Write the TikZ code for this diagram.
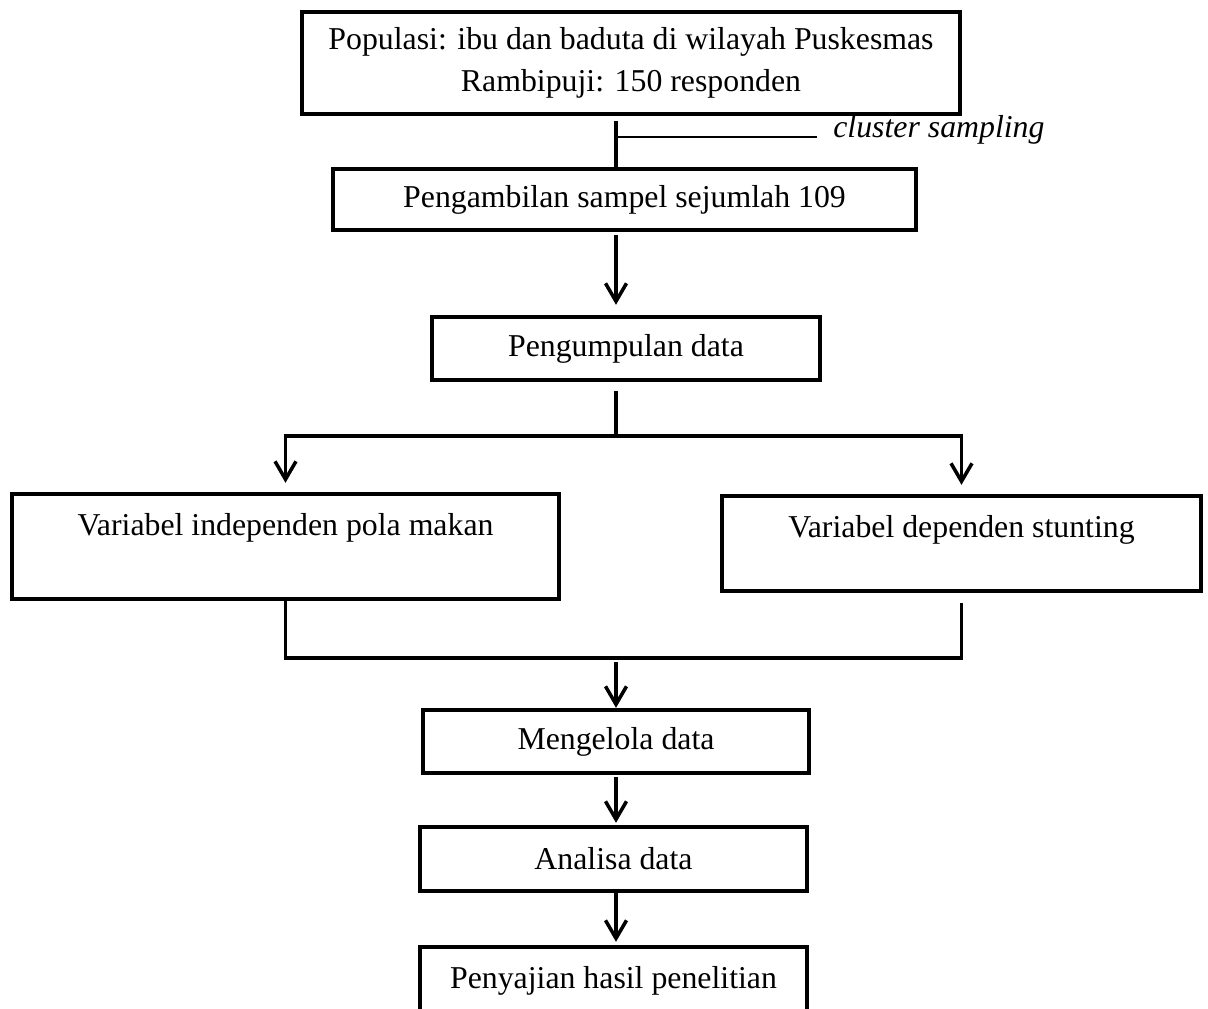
\documentclass[tikz,border=0pt]{standalone}
\usepackage{fontspec}
\setmainfont{Liberation Serif}
\usetikzlibrary{arrows.meta}

\begin{document}
\begin{tikzpicture}[
	box/.style={draw, line width=2.5pt, align=center, inner sep=0pt, font=\fontsize{18.1}{23.8}\selectfont},
	lbl/.style={font=\fontsize{18.1}{23.8}\selectfont\itshape, inner xsep=0.32cm},
	conn/.style={line width=2pt},
	thinline/.style={line width=1.1pt},
	arr/.style={conn, -{Straight Barb[length=0.36cm, width=0.42cm]}}
	]
	\useasboundingbox (0,0) rectangle (24.16,-20.18);
	%Main column
	\coordinate (A) at (12.32,0);
	
	%Populasi
	\node[box, minimum width=13.16cm, minimum height=2.04cm] (Pop) at (12.62,-1.26) {Populasi: ibu dan baduta di wilayah Puskesmas\\Rambipuji: 150 responden};
	
	%Sampel
	\node[box, minimum width=11.66cm, minimum height=1.22cm] (Smp) at (12.49,-3.99) {Pengambilan sampel sejumlah 109};
	\coordinate (CS) at (12.32,-2.74);
	\node[lbl, anchor=west] (CL) at (16.34,-2.60) {cluster sampling};
	\draw[conn, shorten <=0.1cm] (CS |- Pop.south) -- (CS |- Smp.north);
	\draw[thinline] (CS) -- (CL.west |- CS);
	
	%Pengumpulan data
	\node[box, minimum width=7.76cm, minimum height=1.26cm] (Kmp) at (12.52,-6.97) {Pengumpulan data};
	\draw[arr, shorten <=0.06cm, shorten >=0.2cm] (A |- Smp.south) -- (A |- Kmp.north);
	
	%Variabel
	\node[box, minimum width=10.94cm, minimum height=2.10cm, text height=12.4pt, text depth=25pt] (Ind) at (5.71,-10.93) {Variabel independen pola makan};
	\node[box, minimum width=9.58cm, minimum height=1.90cm, text height=12.4pt, text depth=19.4pt] (Dep) at (19.23,-10.87) {Variabel dependen stunting};
	\coordinate (B) at (12.32,-8.72);
	\draw[conn, shorten <=0.18cm] (Kmp.south -| B) -- (B);
	\draw[arr, shorten >=0.18cm] (B) -| (Ind.north);
	\draw[arr, shorten >=0.18cm] (B) -| (Dep.north);
	
	%Gabung
	\coordinate (M) at (12.32,-13.16);
	\draw[conn] (Ind.south) |- (M);
	\draw[conn, shorten <=0.2cm] (Dep.south) |- (M);
	
	%Mengelola, Analisa, Penyajian
	\node[box, minimum width=7.72cm, minimum height=1.26cm] (Olah) at (12.32,-14.83) {Mengelola data};
	\node[box, minimum width=7.74cm, minimum height=1.28cm] (Ana) at (12.27,-17.18) {Analisa data};
	\node[box, minimum width=7.74cm, minimum height=1.34cm] (Saji) at (12.27,-19.61) {Penyajian hasil penelitian};
	\draw[arr, shorten <=0.08cm] (M) -- (A |- Olah.north);
	\draw[arr, shorten <=0.04cm, shorten >=0.04cm] (A |- Olah.south) -- (A |- Ana.north);
	\draw[arr, shorten >=0.06cm] (A |- Ana.south) -- (A |- Saji.north);
\end{tikzpicture}
\end{document}
